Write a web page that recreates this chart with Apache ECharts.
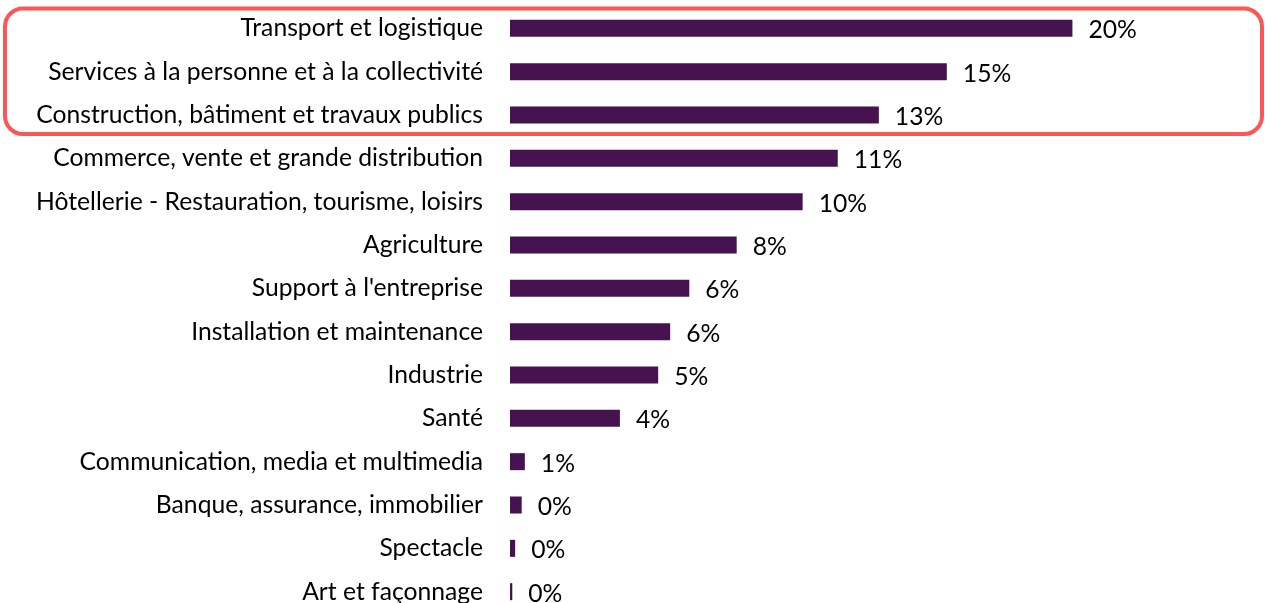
<!DOCTYPE html>
<html><head><meta charset="utf-8">
<script src="https://cdn.jsdelivr.net/npm/echarts@6/dist/echarts.min.js"></script>
<style>html,body{margin:0;padding:0;background:#fff}#c{width:1265px;height:603px}</style>
</head><body><div id="c"></div>
<script>
const categories = [
  "Transport et logistique",
  "Services à la personne et à la collectivité",
  "Construction, bâtiment et travaux publics",
  "Commerce, vente et grande distribution",
  "Hôtellerie - Restauration, tourisme, loisirs",
  "Agriculture",
  "Support à l'entreprise",
  "Installation et maintenance",
  "Industrie",
  "Santé",
  "Communication, media et multimedia",
  "Banque, assurance, immobilier",
  "Spectacle",
  "Art et façonnage"
];
const values = [19.7, 15.3, 12.92, 11.48, 10.25, 7.94, 6.28, 5.61, 5.19, 3.85, 0.52, 0.41, 0.18, 0.08];

const FONT = "Lato";
// fit font size so the longest label spans ~447px like the reference
const cv = document.createElement('canvas').getContext('2d');
cv.font = "100px " + FONT;
const w100 = cv.measureText("Construction, bâtiment et travaux publics").width;
const fs = Math.round(447 / w100 * 100 * 10) / 10;

const chart = echarts.init(document.getElementById('c'), null, {renderer: 'canvas'});
chart.setOption({
  animation: false,
  backgroundColor: '#fff',
  grid: {left: 510, top: 6.67, width: 713.75, height: 606.67, containLabel: false, outerBoundsMode: 'none'},
  xAxis: {type: 'value', min: 0, max: 25, show: false},
  yAxis: {
    type: 'category', data: categories, inverse: true,
    axisLine: {show: false}, axisTick: {show: false}, splitLine: {show: false},
    axisLabel: {margin: 27, color: '#000', fontFamily: FONT, fontSize: fs, offset: [0, 1]}
  },
  series: [{
    type: 'bar', data: values, barWidth: 17,
    itemStyle: {color: '#461350'},
    label: {
      show: true, position: 'right', distance: 16, offset: [0, 2],
      color: '#000', fontFamily: FONT, fontSize: fs,
      formatter: p => Math.round(p.value) + '%'
    }
  }],
  graphic: [{
    type: 'rect', z: 100,
    shape: {x: 5, y: 8.5, width: 1257, height: 125.5, r: 18},
    style: {fill: 'none', stroke: '#FF5555', lineWidth: 4}
  }]
});
</script></body></html>
